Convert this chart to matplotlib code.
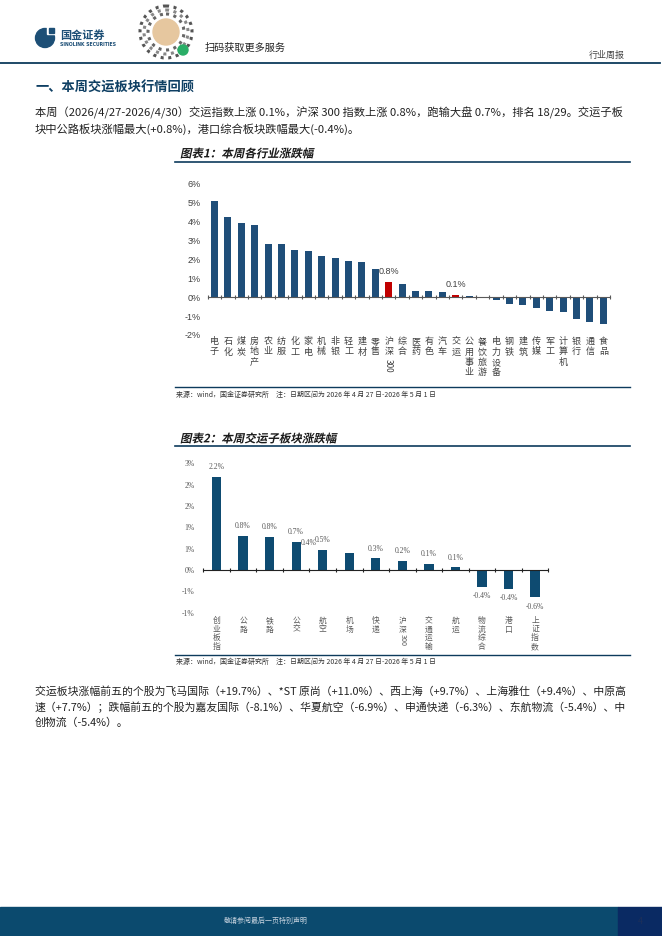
import matplotlib
matplotlib.use("Agg")
import matplotlib.pyplot as plt
import matplotlib.patches as mpatches
from matplotlib.font_manager import FontProperties
from matplotlib.textpath import TextPath
from matplotlib.transforms import Affine2D
import numpy as np

plt.rcParams['font.family'] = ['Noto Sans CJK SC', 'DejaVu Sans']
plt.rcParams['axes.unicode_minus'] = False

# chart 1: weekly change by industry (%)
industries = ['电子', '石化', '煤炭', '房地产', '农业', '纺服', '化工', '家电', '机械', '非银',
              '轻工', '建材', '零售', '沪深300', '综合', '医药', '有色', '汽车', '交运', '公用事业',
              '餐饮旅游', '电力设备', '钢铁', '建筑', '传媒', '军工', '计算机', '银行', '通信', '食品']
ind_chg = [5.07, 4.22, 3.93, 3.80, 2.80, 2.80, 2.49, 2.44, 2.17, 2.07,
           1.91, 1.86, 1.49, 0.80, 0.70, 0.33, 0.33, 0.28, 0.12, 0.08,
           0.03, -0.16, -0.34, -0.44, -0.60, -0.76, -0.81, -1.18, -1.34, -1.44]
highlight = ['沪深300', '交运']

# chart 2: transport sub-sectors (%)
sectors = ['创业板指', '公路', '铁路', '公交', '航空', '机场', '快递', '沪深300',
           '交通运输', '航运', '物流综合', '港口', '上证指数']
sec_chg = [2.19, 0.80, 0.78, 0.66, 0.48, 0.41, 0.27, 0.21, 0.14, 0.06, -0.39, -0.44, -0.64]

W, H = 662, 936
NAVY = '#0d3b5c'

fig = plt.figure(figsize=(W / 100, H / 100), dpi=100)
bg = fig.add_axes([0, 0, 1, 1])
bg.set_xlim(0, W)
bg.set_ylim(H, 0)
bg.axis('off')


def axes_px(left, top, right, bottom):
    return fig.add_axes([left / W, 1 - bottom / H, (right - left) / W, (bottom - top) / H])


def italic_title(x, y, s, size=11.5):
    # bold text slanted by hand, the CJK font has no italic face
    tp = TextPath((0, 0), s, size=size, prop=FontProperties(family='Noto Sans CJK SC', weight='bold'))
    tr = Affine2D().skew_deg(12, 0).scale(1, -1).translate(x, y + size * 0.38) + bg.transData
    bg.add_patch(mpatches.PathPatch(tp, transform=tr, color='#1a1a1a', lw=0))


# header
bg.add_patch(mpatches.Circle((45, 38), 9.5, color='#1d4f76'))
bg.add_patch(mpatches.Rectangle((47, 26), 9, 8, color='white'))
bg.add_patch(mpatches.Rectangle((49, 28), 5, 5, color='#1d4f76'))
bg.text(60, 35, '国金证券', fontsize=8, fontweight='bold', color='#1d4f76', va='center')
bg.text(60, 44, 'SINOLINK SECURITIES', fontsize=3.3, fontweight='bold', color='#1d4f76',
        va='center', family='DejaVu Sans')
for r, c in [(26, '#555555'), (22, '#888888'), (18, '#666666')]:
    bg.add_patch(mpatches.Circle((166, 32), r, fill=False, ec=c, lw=2.2, ls=(0, (1, 1.5))))
bg.add_patch(mpatches.Circle((166, 32), 13, color='#e6c79f'))
bg.add_patch(mpatches.Circle((183, 50), 5, color='#2aae67'))
bg.text(205, 48, '扫码获取更多服务', fontsize=7.3, color='#222222', va='center')
bg.text(625, 55, '行业周报', fontsize=6.5, color='#444444', va='center', ha='right')
bg.plot([0, 660], [62.5, 62.5], color=NAVY, lw=1.3)

bg.text(35, 88, '一、本周交运板块行情回顾', fontsize=9.5, fontweight='bold', color='#0e3f63', va='center')
para1 = ['本周（2026/4/27-2026/4/30）交运指数上涨 0.1%，沪深 300 指数上涨 0.8%，跑输大盘 0.7%，排名 18/29。交运子板',
         '块中公路板块涨幅最大(+0.8%)，港口综合板块跌幅最大(-0.4%)。']
for k, line in enumerate(para1):
    bg.text(35, 113 + 16 * k, line, fontsize=8.1, color='#222222', va='center')

# chart 1 frame
italic_title(180, 153, '图表1：本周各行业涨跌幅')
bg.plot([175, 630], [162, 162], color=NAVY, lw=1.2)
bg.plot([175, 630], [386.5, 386.5], color=NAVY, lw=1.0)
bg.text(176, 395, '来源：wind，国金证券研究所　注：日期区间为 2026 年 4 月 27 日-2026 年 5 月 1 日',
        fontsize=5, color='#333333', va='center')

ax1 = axes_px(207.7, 183.3, 610, 335)
x1 = np.arange(len(industries))
colors1 = ['#c00000' if n in highlight else '#1f4e79' for n in industries]
ax1.bar(x1, ind_chg, width=0.52, color=colors1)
ax1.set_xlim(-0.5, len(industries) - 0.5)
ax1.set_ylim(-2, 6)
for s in ['top', 'right', 'left']:
    ax1.spines[s].set_visible(False)
ax1.spines['bottom'].set_position(('data', 0))
ax1.spines['bottom'].set_color('#595959')
ax1.spines['bottom'].set_linewidth(0.8)
ax1.set_xticks(np.arange(-0.5, len(industries), 1))
ax1.tick_params(axis='x', length=3, direction='inout', color='#595959', labelbottom=False)
ax1.set_yticks(range(-2, 7))
ax1.set_yticklabels([f'{v}%' for v in range(-2, 7)])
ax1.tick_params(axis='y', length=0, pad=5, labelsize=6.5, labelcolor='#404040')
for lbl in ax1.get_yticklabels():
    lbl.set_fontfamily(['Liberation Sans', 'DejaVu Sans'])
ax1.patch.set_alpha(0)


def py1(p):
    return 6 - (p - 183.3) * 8 / (335 - 183.3)


for i, name in enumerate(industries):
    if name == '沪深300':
        ax1.text(i, py1(337), '沪\n深', fontsize=6.5, linespacing=1.2, ha='center', va='top',
                 color='#404040', clip_on=False)
        ax1.text(i, py1(359), '300', fontsize=6, rotation=270, ha='center', va='top',
                 color='#404040', clip_on=False)
    else:
        ax1.text(i, py1(337), '\n'.join(name), fontsize=6.5, linespacing=1.2, ha='center', va='top',
                 color='#404040', clip_on=False)
    if name in highlight:
        v = ind_chg[i]
        ax1.annotate(f'{v:.1f}%', (i, v), xytext=(0, 4), textcoords='offset points',
                     ha='center', va='bottom', fontsize=6.5, color='#404040',
                     family=['Liberation Sans', 'DejaVu Sans'])

# chart 2 frame
italic_title(180, 438, '图表2：本周交运子板块涨跌幅')
bg.plot([175, 630], [446, 446], color=NAVY, lw=1.2)
bg.plot([175, 630], [655, 655], color=NAVY, lw=1.0)
bg.text(176, 662, '来源：wind，国金证券研究所　注：日期区间为 2026 年 4 月 27 日-2026 年 5 月 1 日',
        fontsize=5, color='#333333', va='center')

ax2 = axes_px(203.3, 463.3, 548.3, 612.7)
x2 = np.arange(len(sectors))
ax2.bar(x2, sec_chg, width=0.35, color='#0e4b71')
ax2.set_xlim(-0.5, len(sectors) - 0.5)
ax2.set_ylim(-1, 2.5)
for s in ['top', 'right', 'left']:
    ax2.spines[s].set_visible(False)
ax2.spines['bottom'].set_position(('data', 0))
ax2.spines['bottom'].set_color('#222222')
ax2.spines['bottom'].set_linewidth(0.8)
ax2.set_xticks(np.arange(-0.5, len(sectors), 1))
ax2.tick_params(axis='x', length=3, direction='inout', color='#222222', labelbottom=False)
yt2 = np.arange(-1, 2.51, 0.5)
ax2.set_yticks(yt2)
ax2.set_yticklabels([f'{np.sign(v) * np.floor(abs(v) + 0.5):.0f}%' for v in yt2])
ax2.tick_params(axis='y', length=0, pad=6, labelsize=5.5, labelcolor='#595959')
for lbl in ax2.get_yticklabels():
    lbl.set_fontfamily(['Liberation Serif', 'DejaVu Serif'])
ax2.patch.set_alpha(0)


def py2(p):
    return 2.5 - (p - 463.3) * 3.5 / (612.7 - 463.3)


for i, name in enumerate(sectors):
    if name == '沪深300':
        ax2.text(i, py2(617), '沪\n深', fontsize=5.6, linespacing=1.1, ha='center', va='top',
                 color='#595959', clip_on=False)
        ax2.text(i, py2(634), '300', fontsize=5.2, rotation=270, ha='center', va='top',
                 color='#595959', clip_on=False)
    else:
        ax2.text(i, py2(617), '\n'.join(name), fontsize=5.6, linespacing=1.1, ha='center', va='top',
                 color='#595959', clip_on=False)
    v = sec_chg[i]
    dx = -29 if name == '机场' else 0
    if v >= 0:
        ax2.annotate(f'{v:.1f}%', (i, v), xytext=(dx, 4), textcoords='offset points',
                     ha='center', va='bottom', fontsize=5.5, color='#595959',
                     family=['Liberation Serif', 'DejaVu Serif'])
    else:
        ax2.annotate(f'{v:.1f}%', (i, v), xytext=(dx, -4), textcoords='offset points',
                     ha='center', va='top', fontsize=5.5, color='#595959',
                     family=['Liberation Serif', 'DejaVu Serif'])

para2 = ['交运板块涨幅前五的个股为飞马国际（+19.7%）、*ST 原尚（+11.0%）、西上海（+9.7%）、上海雅仕（+9.4%）、中原高',
         '速（+7.7%）；跌幅前五的个股为嘉友国际（-8.1%）、华夏航空（-6.9%）、申通快递（-6.3%）、东航物流（-5.4%）、中',
         '创物流（-5.4%）。']
for k, line in enumerate(para2):
    bg.text(35, 691 + 16 * k, line, fontsize=7.8, color='#222222', va='center')

# footer
bg.add_patch(mpatches.Rectangle((0, 907), 618, 29, color='#0b4a6e'))
bg.add_patch(mpatches.Rectangle((618, 907), 44, 29, color='#0a2a63'))
bg.text(266, 921, '敬请参阅最后一页特别声明', fontsize=5, color='#c8d4e0', ha='center', va='center')
bg.text(640, 921, '4', fontsize=6.5, color='#1c2f5a', ha='center', va='center')

fig.savefig('out.png', dpi=100)
